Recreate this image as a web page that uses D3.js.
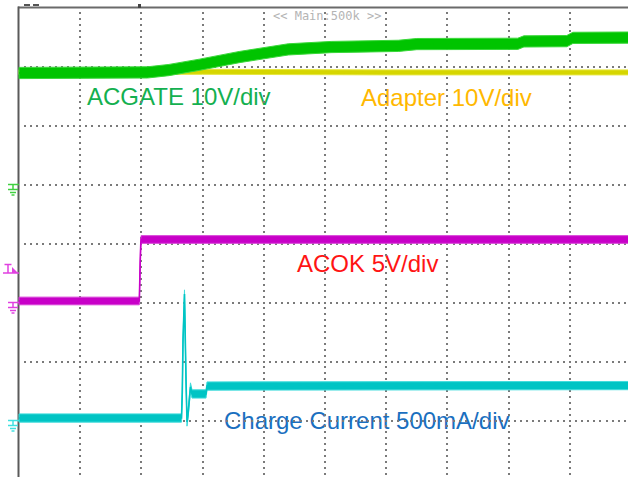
<!DOCTYPE html>
<html><head><meta charset="utf-8">
<script src="https://cdn.jsdelivr.net/npm/d3@7"></script>
<style>html,body{margin:0;padding:0;background:#fff;overflow:hidden}svg{display:block}</style>
</head><body>
<svg id="c" width="628" height="477"></svg>
<script>
// ---- data (time in divisions from left edge of screen) ----
const acgateT = [0, 2.1, 2.45, 2.95, 3.6, 4.4, 5.1, 6.2, 6.5, 8.15, 8.25, 8.95, 9.05, 10];
const acgateV = [18.9, 19.0, 19.4, 20.3, 21.6, 22.9, 23.3, 23.5, 23.8, 23.85, 24.25, 24.3, 24.85, 24.9];
const adapterT = [0, 3, 6, 10];
const adapterV = [19.05, 19.1, 19.0, 19.0];
const acokT = [0, 1.966, 1.98, 1.99, 1.995, 10];
const acokV = [0.13, 0.13, 3.35, 5.0, 5.34, 5.34];
const chgT = [0, 2.655, 2.668, 2.680, 2.704, 2.729, 2.745, 2.761, 2.802, 2.827, 3.056, 3.072, 10];
const chgI = [21, 21, 233, 682, 1072, 343, -13, 47, 284, 225, 225, 292, 296];
const labels = ["ACGATE 10V/div", "Adapter 10V/div", "ACOK 5V/div", "Charge Current 500mA/div"];
const topText = "<< Main:500k >>";
const triggerT = 1.98;       // trigger position (div)
const triggerLevel = 2.5;    // V on ACOK

// ---- channel settings ----
const channels = [
  {name:"adapter", t:adapterT, v:adapterV, perDiv:10, offset:1, noise:0.85, fill:"#d6d600", edge:"#e6e640"},
  {name:"acgate", t:acgateT, v:acgateV, perDiv:10, offset:1, noise:1.9, fill:"#00c400", edge:"#3ad83a"},
  {name:"acok", t:acokT, v:acokV, perDiv:5, offset:-1, noise:0.65, fill:"#c800c8", edge:"#d840d8"},
  {name:"chg", t:chgT, v:chgI, perDiv:500, offset:-3, noise:70, fill:"#00c4c4", edge:"#40dcdc"}
];

const svg = d3.select("#c");
const x = d3.scaleLinear().domain([0, 10]).range([19, 631]);
const y = d3.scaleLinear().domain([-4, 4]).range([479.5, 7.5]);

// labels
const labelStyle = [
  {x:87, y:105, fill:"#14b050"},
  {x:361, y:106, fill:"#ffb800"},
  {x:297, y:272, fill:"#ff1414"},
  {x:224, y:429, fill:"#1a6fc0"}
];
svg.append("g").selectAll("text").data(labels).join("text")
  .attr("x", (d,i)=>labelStyle[i].x).attr("y", (d,i)=>labelStyle[i].y)
  .attr("fill", (d,i)=>labelStyle[i].fill)
  .attr("font-family", "Liberation Sans, Arial, sans-serif")
  .attr("font-size", 24).text(d=>d);

svg.append("text").attr("x", 273).attr("y", 20)
  .attr("font-family", "DejaVu Sans Mono, monospace").attr("font-size", 12)
  .attr("fill", "#b4b4b4").attr("xml:space","preserve").text(topText);

// grid dots
const dots = [];
for (let k = 1; k <= 9; k++) {
  for (let j = 1; j < 80; j++) dots.push([x(k), y(-4 + j/10)]);
}
for (let k = -3; k <= 3; k++) {
  for (let j = 1; j < 100; j++) dots.push([x(j/10), y(k)]);
}
svg.append("g").selectAll("rect").data(dots).join("rect")
  .attr("x", d=>Math.round(d[0]) - 1).attr("y", d=>Math.round(d[1]) - 1)
  .attr("width", 2).attr("height", 2).attr("fill", "#7a7a7a");

// borders
svg.append("line").attr("x1", 18).attr("x2", 628).attr("y1", y(4)).attr("y2", y(4))
  .attr("stroke", "#6a6a6a").attr("stroke-width", 2);
svg.append("line").attr("x1", x(0)-0.5).attr("x2", x(0)-0.5).attr("y1", y(4)-1).attr("y2", 477)
  .attr("stroke", "#5a5a5a").attr("stroke-width", 2);

// top marks
svg.append("rect").attr("x", 24).attr("y", 4).attr("width", 6).attr("height", 2).attr("fill", "#555");
svg.append("rect").attr("x", 33).attr("y", 4).attr("width", 6).attr("height", 2).attr("fill", "#555");
svg.append("rect").attr("x", Math.round(x(triggerT)) - 2).attr("y", 4).attr("width", 3).attr("height", 4).attr("fill", "#444");

// traces
channels.forEach(ch => {
  const pts = ch.t.map((t,i)=>({t, v:ch.v[i]}));
  const area = d3.area()
    .x(d=>x(d.t))
    .y0(d=>y(ch.offset + (d.v - ch.noise/2)/ch.perDiv))
    .y1(d=>y(ch.offset + (d.v + ch.noise/2)/ch.perDiv));
  const line = d3.line().x(d=>x(d.t)).y(d=>y(ch.offset + d.v/ch.perDiv));
  svg.append("path").attr("d", area(pts)).attr("fill", ch.fill)
    .attr("stroke", ch.edge).attr("stroke-width", 1);
  svg.append("path").attr("d", line(pts)).attr("fill", "none")
    .attr("stroke", ch.fill).attr("stroke-width", 1.6);
});

// ground markers
function ground(yg, color) {
  const g = svg.append("g").attr("stroke", color).attr("stroke-width", 1.5).attr("fill", "none");
  g.append("line").attr("x1", 8).attr("x2", 19).attr("y1", yg).attr("y2", yg);
  g.append("line").attr("x1", 13).attr("x2", 13).attr("y1", yg).attr("y2", yg+5);
  g.append("line").attr("x1", 8).attr("x2", 18).attr("y1", yg+5).attr("y2", yg+5);
  g.append("line").attr("x1", 10).attr("x2", 16).attr("y1", yg+8).attr("y2", yg+8);
  g.append("line").attr("x1", 11.5).attr("x2", 14.5).attr("y1", yg+10.5).attr("y2", yg+10.5);
}
ground(y(1), "#40d040");
ground(y(-1), "#e040e0");
ground(y(-3), "#40e0e0");

// trigger level marker
const yt = y(-1 + triggerLevel/5);
const tg = svg.append("g");
tg.append("line").attr("x1", 4.5).attr("x2", 11.5).attr("y1", yt-8.5).attr("y2", yt-8.5).attr("stroke", "#e040e0").attr("stroke-width", 1.5);
tg.append("line").attr("x1", 8).attr("x2", 8).attr("y1", yt-8.5).attr("y2", yt).attr("stroke", "#e040e0").attr("stroke-width", 1.5);
tg.append("line").attr("x1", 3).attr("x2", 19).attr("y1", yt).attr("y2", yt).attr("stroke", "#e040e0").attr("stroke-width", 1.5);
tg.append("path").attr("d", `M12,${yt-6}L12,${yt}L18,${yt}Z`).attr("fill", "#e040e0");
</script>
</body></html>
